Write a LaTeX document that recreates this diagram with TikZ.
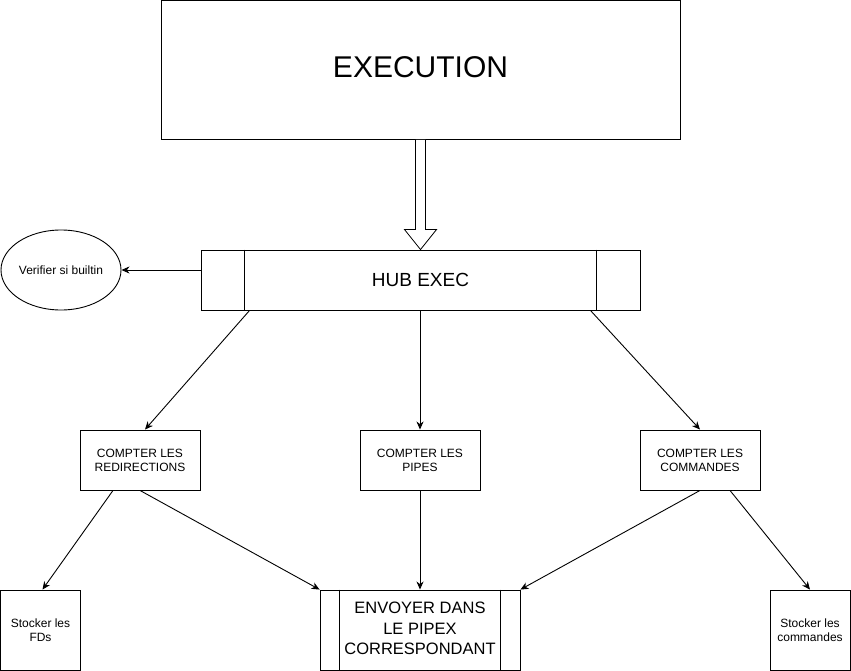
\documentclass[tikz,border=0pt]{standalone}
\usepackage{fontspec}
\setmainfont{Liberation Sans}
\usetikzlibrary{arrows.meta,shapes.geometric,calc}
\begin{document}
\begin{tikzpicture}[x=1pt,y=-1pt, line width=0.9pt,
  arr/.style={-{Stealth[length=8pt,width=7pt,inset=2.5pt]}},
  box/.style={draw, rectangle, inner sep=0pt, align=center, font=\fontsize{12}{14}\selectfont},
  proc/.style={box}
]
\useasboundingbox (0,0) rectangle (851,671);

\node[box, minimum width=519pt, minimum height=139pt] (exec) at (420.5,70) {};
\node[font=\fontsize{30}{34}\selectfont, inner sep=0pt] (exectext) at ($(exec.center)+(0,-2.5)$) {EXECUTION};
\node[proc, minimum width=439pt, minimum height=60pt, font=\fontsize{19}{22}\selectfont] (hub) at (420.5,280) {HUB EXEC};
\draw ([xshift=44pt]hub.north west) -- ([xshift=44pt]hub.south west);
\draw ([xshift=-44pt]hub.north east) -- ([xshift=-44pt]hub.south east);

\node[draw, ellipse, minimum width=120pt, minimum height=80pt, inner sep=0pt, font=\fontsize{12}{14}\selectfont] (ell) at (61,270) {Verifier si builtin};

\node[box, minimum width=120pt, minimum height=60pt] (redir) at (140,460) {COMPTER LES\\REDIRECTIONS};
\node[box, minimum width=120pt, minimum height=60pt] (pipes) at (420,460) {COMPTER LES\\PIPES};
\node[box, minimum width=120pt, minimum height=60pt] (cmds) at (700,460) {COMPTER LES\\COMMANDES};

\node[box, minimum width=80pt, minimum height=80pt] (fds) at (40.5,630) {Stocker les\\FDs};
\node[proc, minimum width=200pt, minimum height=80pt] (env) at (420,630) {};
\node[align=center, inner sep=0pt, font=\fontsize{16.5}{20.5}\selectfont] (envtext) at ($(env.center)+(0,-1.5)$) {ENVOYER DANS\\LE PIPEX\\CORRESPONDANT};
\draw ([xshift=20pt]env.north west) -- ([xshift=20pt]env.south west);
\draw ([xshift=-20pt]env.north east) -- ([xshift=-20pt]env.south east);
\node[box, minimum width=80pt, minimum height=80pt] (stc) at (810,630) {Stocker les\\commandes};

% hollow arrow
\draw[line width=0.8pt, fill=white]
  ($(exec.south)+(-5,0)$) -- ($(hub.north)+(-5,-20)$) -- ($(hub.north)+(-16,-20)$)
  -- (hub.north) -- ($(hub.north)+(16,-20)$) -- ($(hub.north)+(5,-20)$)
  -- ($(exec.south)+(5,0)$);

% connectors
\draw[arr] (hub.west |- ell.east) -- (ell.east);
\draw[arr] ([xshift=49pt]hub.south west) -- ([xshift=5pt]redir.north);
\draw[arr] (hub.south -| pipes.north) -- (pipes.north);
\draw[arr] ([xshift=-50pt]hub.south east) -- (cmds.north);

\draw[arr] ([xshift=-27pt]redir.south) -- ([xshift=2pt]fds.north);
\draw[arr] (redir.south) -- (env.north west);
\draw[arr] (pipes.south) -- (env.north);
\draw[arr] (cmds.south) -- (env.north east);
\draw[arr] ([xshift=30pt]cmds.south) -- (stc.north);
\end{tikzpicture}
\end{document}
